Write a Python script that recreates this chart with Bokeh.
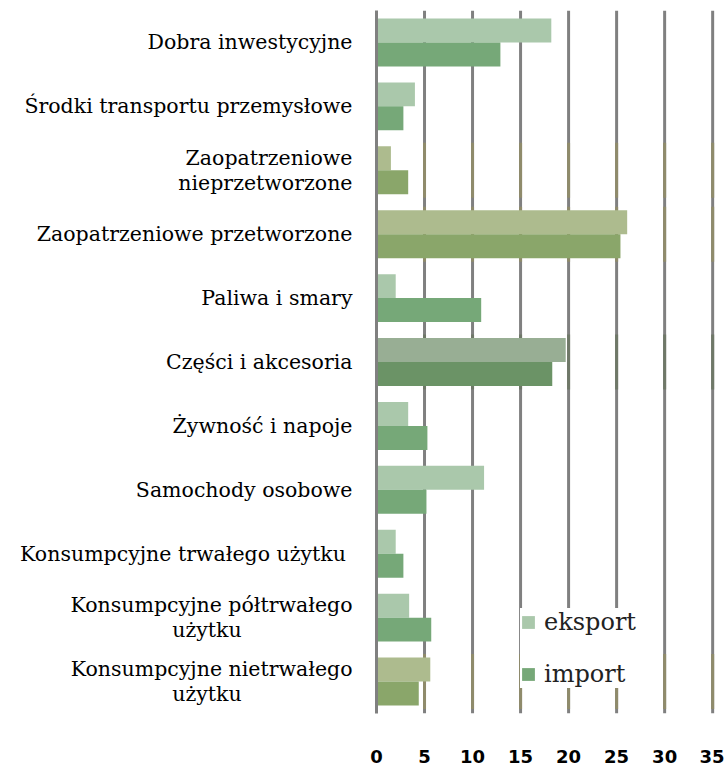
from bokeh.plotting import figure
from bokeh.models import Range1d, FixedTicker, ColumnDataSource, Legend, LegendItem
from bokeh.embed import file_html
from bokeh.resources import INLINE

NB = "\u00a0"
categories = [
    "Dobra inwestycyjne",
    "Środki transportu przemysłowe",
    "Zaopatrzeniowe\nnieprzetworzone",
    "Zaopatrzeniowe przetworzone",
    "Paliwa i smary",
    "Części i akcesoria",
    "Żywność i napoje",
    "Samochody osobowe",
    "Konsumpcyjne  trwałego użytku",
    "Konsumpcyjne półtrwałego\nużytku" + NB * 17,
    "Konsumpcyjne nietrwałego\nużytku" + NB * 17,
]
eksport = [18.2, 4.0, 1.5, 26.1, 2.0, 19.7, 3.3, 11.2, 2.0, 3.4, 5.6]
import_vals = [12.9, 2.8, 3.3, 25.4, 10.9, 18.3, 5.3, 5.2, 2.8, 5.7, 4.4]
x_ticks = [0, 5, 10, 15, 20, 25, 30, 35]

# per-row style (visual tint of each row)
row_style = ["green", "green", "olive", "olive", "green", "grey", "green", "green", "green", "green", "olive"]
exp_colors = {"green": "#aac8ab", "olive": "#adbb8e", "grey": "#98ae94"}
imp_colors = {"green": "#76a878", "olive": "#8aa66a", "grey": "#6b9366"}
grid_colors = {"olive": "#8f8b6b", "grey": "#6f7868"}

n = len(categories)
ypos = [n - 1 - i for i in range(n)]

src = ColumnDataSource(dict(
    y=ypos,
    ye=[y + 0.1875 for y in ypos],
    yi=[y - 0.1875 for y in ypos],
    eksport=eksport,
    imp=import_vals,
    ce=[exp_colors[s] for s in row_style],
    ci=[imp_colors[s] for s in row_style],
))

p = figure(width=724, height=765, output_backend="svg", toolbar_location=None,
           x_range=Range1d(0, 35.4), y_range=Range1d(-0.5, n - 0.5),
           min_border_left=376, min_border_right=8, min_border_top=10, min_border_bottom=52)
p.outline_line_color = None
p.xgrid.visible = False
p.ygrid.visible = False
p.background_fill_color = "white"

# gridlines
gx = [t for t in x_ticks if t > 0]
p.segment(x0=gx, x1=gx, y0=[-0.5] * len(gx), y1=[n - 0.5] * len(gx),
          line_color="#808080", line_width=3)
ox, oy0, oy1, oc = [], [], [], []
for y, s in zip(ypos, row_style):
    if s in grid_colors:
        for t in gx:
            ox.append(t)
            oy0.append(y - 0.43)
            oy1.append(y + 0.43)
            oc.append(grid_colors[s])
p.segment(x0=ox, x1=ox, y0=oy0, y1=oy1, line_color=oc, line_width=3)

re = p.hbar(y="ye", right="eksport", left=0, height=0.375, fill_color="ce",
            line_color=None, source=src)
ri = p.hbar(y="yi", right="imp", left=0, height=0.375, fill_color="ci",
            line_color=None, source=src)

# axes
p.xaxis.ticker = FixedTicker(ticks=x_ticks)
p.xaxis.axis_line_color = None
p.xaxis.major_tick_line_color = None
p.xaxis.minor_tick_line_color = None
p.xaxis.major_label_standoff = 30
p.xaxis.major_label_text_font = "DejaVu Sans"
p.xaxis.major_label_text_font_style = "bold"
p.xaxis.major_label_text_font_size = "18px"
p.xaxis.major_label_text_color = "#000000"

p.yaxis.ticker = FixedTicker(ticks=ypos)
p.yaxis.major_label_overrides = {y: c for y, c in zip(ypos, categories)}
p.yaxis.axis_line_color = "#808080"
p.yaxis.axis_line_width = 3
p.yaxis.major_tick_line_color = None
p.yaxis.minor_tick_line_color = None
p.yaxis.major_label_standoff = 18
p.yaxis.major_label_text_font = "DejaVu Serif"
p.yaxis.major_label_text_font_size = "20.5px"
p.yaxis.major_label_text_line_height = 1.05
p.yaxis.major_label_text_color = "#000000"

legend = Legend(items=[LegendItem(label="eksport", renderers=[re], index=0),
                       LegendItem(label="import", renderers=[ri], index=0)],
                location=(144, 25))
legend.background_fill_color = "white"
legend.background_fill_alpha = 1.0
legend.border_line_color = None
legend.label_text_font = "DejaVu Serif"
legend.label_text_font_size = "24px"
legend.label_text_color = "#222222"
legend.glyph_width = 16
legend.glyph_height = 16
legend.label_height = 26
legend.spacing = 24
legend.padding = 14
legend.label_standoff = 8
legend.margin = 0
p.add_layout(legend)

open("out.html", "w").write(file_html(p, INLINE))
